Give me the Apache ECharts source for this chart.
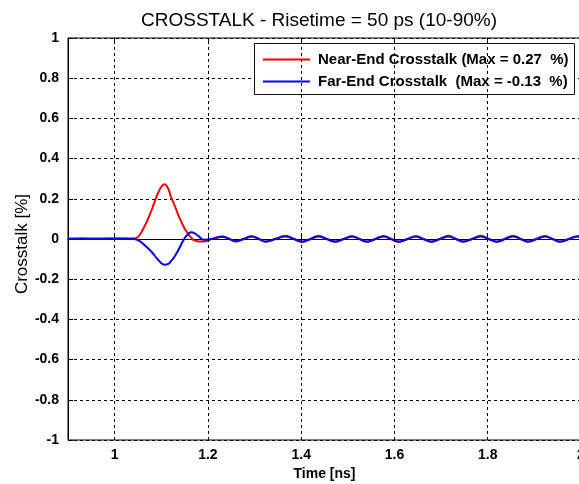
<!DOCTYPE html>
<html><head><meta charset="utf-8">
<script src="https://cdn.jsdelivr.net/npm/echarts@6/dist/echarts.min.js"></script>
<style>html,body{margin:0;padding:0;background:#fff}#c{width:579px;height:484px}</style>
</head><body><div id="c"></div>
<script>
var timeNs = [0.90,0.93,0.96,0.99,1.02,1.04,1.05,1.06,1.07,1.08,1.09,1.10,1.107,1.115,1.12,1.13,1.14,1.15,1.16,1.165,1.17,1.18,1.191,1.21,1.230,1.245,1.259,1.277,1.294,1.309,1.323,1.345,1.366,1.384,1.402,1.420,1.437,1.455,1.473,1.491,1.509,1.525,1.541,1.559,1.577,1.593,1.609,1.628,1.646,1.662,1.679,1.697,1.716,1.732,1.748,1.767,1.785,1.802,1.819,1.837,1.855,1.871,1.887,1.905,1.923,1.939,1.955,1.974,1.993,2.0];
var nearEnd = [0.003,0.004,0.002,0.004,0.003,0.002,0.010,0.045,0.092,0.148,0.212,0.260,0.272,0.250,0.215,0.158,0.100,0.052,0.018,0.004,-0.006,-0.012,-0.012,0.002,0.013,0.002,-0.012,0.001,0.014,0.001,-0.014,0.001,0.016,0.001,-0.015,0.000,0.016,0.000,-0.014,0.000,0.014,0.000,-0.014,0.000,0.015,0.000,-0.015,0.000,0.014,0.000,-0.015,0.000,0.016,0.000,-0.014,0.001,0.016,0.000,-0.015,0.001,0.016,0.000,-0.014,0.001,0.015,0.000,-0.014,0.000,0.014,0.012];
var farEnd = [0.000,0.000,0.001,0.000,0.001,0.000,-0.006,-0.022,-0.042,-0.066,-0.095,-0.120,-0.128,-0.124,-0.113,-0.082,-0.040,0.004,0.030,0.034,0.030,0.014,-0.004,0.000,0.011,0.001,-0.011,0.000,0.012,0.000,-0.013,0.000,0.012,0.000,-0.013,0.000,0.013,0.000,-0.013,0.000,0.012,0.000,-0.013,0.000,0.013,0.000,-0.013,0.000,0.012,0.000,-0.013,0.000,0.013,0.000,-0.013,0.000,0.013,0.000,-0.013,0.000,0.013,0.000,-0.013,0.000,0.013,0.000,-0.013,0.000,0.013,0.011];
var xTickValues = [1, 1.2, 1.4, 1.6, 1.8, 2];
var seriesNames = ['Near-End Crosstalk (Max = 0.27  %)', 'Far-End Crosstalk  (Max = -0.13  %)'];
var titleText = 'CROSSTALK - Risetime = 50 ps (10-90%)';
var xTitle = 'Time [ns]';
var yTitle = 'Crosstalk [%]';

var FONT = '"Liberation Sans", Arial, sans-serif';
function pairs(v){ return timeNs.map(function(t,i){ return [t, v[i]]; }); }
var chart = echarts.init(document.getElementById('c'), null, {renderer:'canvas'});
var gridLine = {show:true, lineStyle:{color:'#000', type:[3,3], width:1}};
chart.setOption({
  animation:false,
  backgroundColor:'#fff',
  title:{text:titleText, left:314, textAlign:'center', top:6,
    textStyle:{fontFamily:FONT, fontSize:19, fontWeight:'normal', color:'#000'}},
  grid:{left:68, right:-2, top:38, bottom:44, outerBoundsMode:'none', containLabel:false,
    show:true, borderColor:'#000', borderWidth:1, backgroundColor:'transparent'},
  graphic:[
    {type:'rect', left:254, top:43, shape:{width:320, height:51}, z:5,
     style:{fill:'#fff', stroke:'#111', lineWidth:1}},
    {type:'text', x:22, y:244, rotation:Math.PI/2, z:5,
     style:{text:yTitle, fill:'#000', font:'normal 17px "Liberation Sans", Arial, sans-serif',
       textAlign:'center', textVerticalAlign:'middle'}}
  ],
  legend:{orient:'vertical', left:263, top:52, z:6, padding:0, itemWidth:47, itemHeight:2, itemGap:7,
    icon:'rect',
    textStyle:{fontFamily:FONT, fontSize:15, fontWeight:'bold', color:'#000', padding:[0,0,0,3]},
    data:[{name:seriesNames[0]},{name:seriesNames[1]}]},
  xAxis:[{type:'value', min:0.9, max:2.0, interval:0.1,
    axisLine:{show:true, lineStyle:{color:'#000'}},
    axisTick:{show:true, inside:true, length:5, lineStyle:{color:'#000'}, customValues:xTickValues},
    axisLabel:{margin:8, color:'#000', fontFamily:FONT, fontSize:14, fontWeight:'bold',
      customValues:xTickValues, formatter:function(v){return String(+v.toFixed(1));}},
    splitLine:{show:false},
    name:xTitle, nameLocation:'middle', nameGap:26,
    nameTextStyle:{fontFamily:FONT, fontSize:14, fontWeight:'bold', color:'#000'}},
   {type:'value', position:'top', min:0.9, max:2.0, interval:0.1,
    axisLine:{show:false}, axisLabel:{show:false},
    axisTick:{show:true, inside:true, length:5, lineStyle:{color:'#000'}, customValues:xTickValues},
    splitLine:{show:false}}],
  yAxis:{type:'value', min:-1, max:1, interval:0.2,
    axisLine:{show:true, lineStyle:{color:'#000'}},
    axisTick:{show:true, inside:true, length:5, lineStyle:{color:'#000'}},
    axisLabel:{margin:9, color:'#000', fontFamily:FONT, fontSize:14, fontWeight:'bold',
      formatter:function(v){return String(+v.toFixed(1));}},
    splitLine:gridLine},
  series:[
    {name:seriesNames[0], type:'line', data:pairs(nearEnd), symbol:'none', smooth:0.4,
     lineStyle:{color:'#f00000', width:2}, itemStyle:{color:'#f00000'}, z:3},
    {name:seriesNames[1], type:'line', data:pairs(farEnd), symbol:'none', smooth:0.4,
     lineStyle:{color:'#0000f0', width:2}, itemStyle:{color:'#0000f0'}, z:4},
    {type:'line', data:[], silent:true,
     markLine:{silent:true, symbol:'none', label:{show:false},
       lineStyle:{color:'#000', type:[3,3], width:1},
       data:xTickValues.slice(0,5).map(function(v){return {xAxis:v};})}, z:1}
  ]
});
</script></body></html>
